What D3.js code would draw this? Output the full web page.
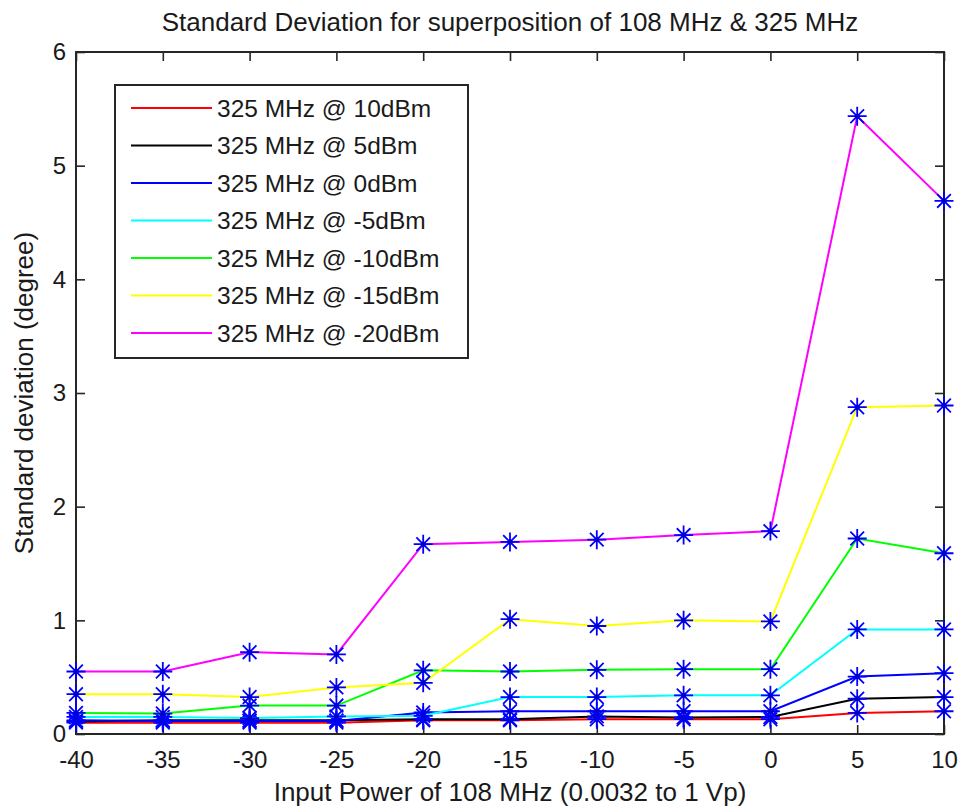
<!DOCTYPE html>
<html>
<head>
<meta charset="utf-8">
<script src="https://cdn.jsdelivr.net/npm/d3@7"></script>
<style>
  html, body { margin: 0; padding: 0; background: #fff; }
  svg { display: block; font-family: "Liberation Sans", Arial, Helvetica, sans-serif; }
</style>
</head>
<body>
<svg id="chart" width="959" height="810"></svg>
<script>
// Input power of the 108 MHz tone (dBm)
const inputPower = [-40, -35, -30, -25, -20, -15, -10, -5, 0, 5, 10];

// Standard deviation (degree) for each 325 MHz level
const sd10dBm  = [0.10, 0.10, 0.10, 0.10, 0.12, 0.12, 0.13, 0.13, 0.13, 0.185, 0.20];
const sd5dBm   = [0.11, 0.12, 0.12, 0.12, 0.13, 0.13, 0.155, 0.145, 0.15, 0.31, 0.325];
const sd0dBm   = [0.12, 0.115, 0.115, 0.115, 0.19, 0.20, 0.20, 0.20, 0.20, 0.505, 0.535];
const sdM5dBm  = [0.15, 0.15, 0.14, 0.155, 0.16, 0.325, 0.325, 0.34, 0.34, 0.92, 0.92];
const sdM10dBm = [0.185, 0.18, 0.25, 0.25, 0.56, 0.55, 0.565, 0.57, 0.57, 1.72, 1.59];
const sdM15dBm = [0.35, 0.35, 0.325, 0.41, 0.45, 1.01, 0.95, 1.00, 0.99, 2.875, 2.89];
const sdM20dBm = [0.55, 0.55, 0.72, 0.70, 1.67, 1.69, 1.71, 1.75, 1.785, 5.435, 4.69];

const seriesNames = [
  "325 MHz @ 10dBm", "325 MHz @ 5dBm", "325 MHz @ 0dBm", "325 MHz @ -5dBm",
  "325 MHz @ -10dBm", "325 MHz @ -15dBm", "325 MHz @ -20dBm"
];
const seriesValues = [sd10dBm, sd5dBm, sd0dBm, sdM5dBm, sdM10dBm, sdM15dBm, sdM20dBm];
const seriesColors = ["#ff0000", "#000000", "#0000ff", "#00ffff", "#00ff00", "#ffff00", "#ff00ff"];

const xTicks = [-40, -35, -30, -25, -20, -15, -10, -5, 0, 5, 10];
const yTicks = [0, 1, 2, 3, 4, 5, 6];

const titleText = "Standard Deviation for superposition of 108 MHz & 325 MHz";
const xLabel = "Input Power of 108 MHz (0.0032 to 1 Vp)";
const yLabel = "Standard deviation (degree)";

const svg = d3.select("#chart");
const plot = { left: 76, right: 944, top: 52, bottom: 734 };

const x = d3.scaleLinear().domain([-40, 10]).range([plot.left, plot.right]);
const y = d3.scaleLinear().domain([0, 6]).range([plot.bottom, plot.top]);

const axisColor = "#262626";
const textColor = "#1a1a1a";
const tickFont = 24;
const labelFont = 26;
const tickLen = 9;
// plain hyphen-minus for negative tick labels
const plainNum = d => String(d);

// Axes with inward ticks, mirrored on top and right
const gx = svg.append("g").attr("transform", `translate(0,${plot.bottom})`)
  .call(d3.axisBottom(x).tickValues(xTicks).tickFormat(plainNum)
    .tickSizeInner(-tickLen).tickSizeOuter(0).tickPadding(16));
const gxTop = svg.append("g").attr("transform", `translate(0,${plot.top})`)
  .call(d3.axisTop(x).tickValues(xTicks).tickSizeInner(-tickLen).tickSizeOuter(0).tickFormat(""));
const gy = svg.append("g").attr("transform", `translate(${plot.left},0)`)
  .call(d3.axisLeft(y).tickValues(yTicks).tickFormat(plainNum)
    .tickSizeInner(-tickLen).tickSizeOuter(0).tickPadding(10));
const gyRight = svg.append("g").attr("transform", `translate(${plot.right},0)`)
  .call(d3.axisRight(y).tickValues(yTicks).tickSizeInner(-tickLen).tickSizeOuter(0).tickFormat(""));

[gx, gxTop, gy, gyRight].forEach(g => {
  g.select(".domain").remove();
  g.selectAll(".tick line").attr("stroke", axisColor).attr("stroke-width", 1.6);
  g.selectAll(".tick text").attr("fill", textColor).style("font-size", tickFont + "px")
    .style("font-family", "\"Liberation Sans\", Arial, sans-serif");
});
gx.selectAll(".tick text").attr("dy", "0.75em");

// Plot box
svg.append("rect")
  .attr("x", plot.left).attr("y", plot.top)
  .attr("width", plot.right - plot.left).attr("height", plot.bottom - plot.top)
  .attr("fill", "none").attr("stroke", axisColor).attr("stroke-width", 2);

// Star marker path (plus + cross)
function starPath(r) {
  const d = r * 0.72;
  return `M${-r},0L${r},0M0,${-r}L0,${r}M${-d},${-d}L${d},${d}M${-d},${d}L${d},${-d}`;
}

const line = d3.line().x((d, i) => x(inputPower[i])).y(d => y(d));

seriesValues.forEach((vals, si) => {
  const g = svg.append("g");
  g.append("path")
    .attr("d", line(vals))
    .attr("fill", "none")
    .attr("stroke", seriesColors[si])
    .attr("stroke-width", 2);
  g.selectAll("path.marker")
    .data(vals)
    .join("path")
    .attr("class", "marker")
    .attr("transform", (d, i) => `translate(${x(inputPower[i])},${y(d)})`)
    .attr("d", starPath(9.5))
    .attr("stroke", "#0000ff")
    .attr("stroke-width", 1.8)
    .attr("fill", "none");
  g.selectAll("circle.dot")
    .data(vals)
    .join("circle")
    .attr("class", "dot")
    .attr("cx", (d, i) => x(inputPower[i]))
    .attr("cy", d => y(d))
    .attr("r", 2.5)
    .attr("fill", "#0000cc");
});

// Legend
const legend = svg.append("g");
legend.append("rect")
  .attr("x", 115).attr("y", 85).attr("width", 353).attr("height", 273)
  .attr("fill", "#fff").attr("stroke", axisColor).attr("stroke-width", 2);
const rowStep = 37.5;
seriesNames.forEach((name, i) => {
  const cy = 108 + i * rowStep;
  legend.append("line")
    .attr("x1", 131).attr("x2", 212).attr("y1", cy).attr("y2", cy)
    .attr("stroke", seriesColors[i]).attr("stroke-width", 1.8);
  legend.append("text")
    .attr("x", 217).attr("y", cy).attr("dy", "0.35em")
    .attr("fill", textColor).style("font-size", "24.5px")
    .text(name);
});

// Title and axis labels
svg.append("text")
  .attr("x", (plot.left + plot.right) / 2).attr("y", 31)
  .attr("text-anchor", "middle").attr("fill", textColor)
  .style("font-size", labelFont + "px").text(titleText);
svg.append("text")
  .attr("x", (plot.left + plot.right) / 2).attr("y", 801)
  .attr("text-anchor", "middle").attr("fill", textColor)
  .style("font-size", labelFont + "px").text(xLabel);
svg.append("text")
  .attr("transform", `translate(33,${(plot.top + plot.bottom) / 2}) rotate(-90)`)
  .attr("text-anchor", "middle").attr("fill", textColor)
  .style("font-size", labelFont + "px").text(yLabel);
</script>
</body>
</html>
